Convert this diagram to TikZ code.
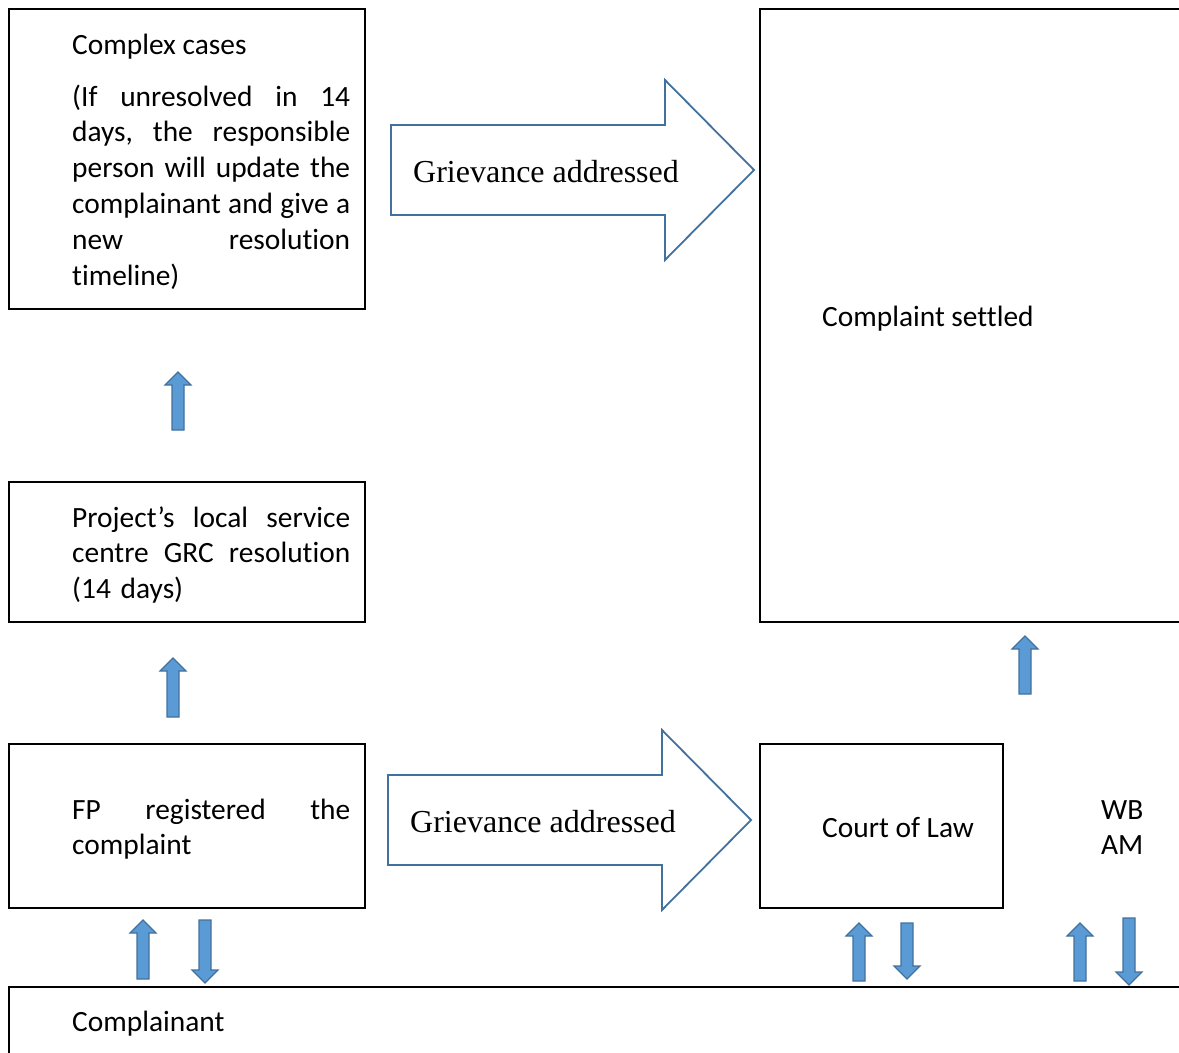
\documentclass[tikz,border=0pt]{standalone}
\usepackage{fontspec}
\setmainfont{Carlito}[Ligatures=NoCommon]
\newfontfamily\timesf{Liberation Serif}
\definecolor{arrfill}{HTML}{5B9BD5}
\definecolor{arrdraw}{HTML}{41719C}
\newcommand{\jl}[1]{\makebox[278pt][l]{#1}}
\newcommand{\blkup}[3]{\draw[blk] ({#1-6},{#3}) -- ({#1-6},{#2+13}) -- ({#1-13},{#2+13}) -- ({#1},{#2}) -- ({#1+13},{#2+13}) -- ({#1+6},{#2+13}) -- ({#1+6},{#3}) -- cycle;}
\newcommand{\blkdown}[3]{\draw[blk] ({#1-6},{#2}) -- ({#1-6},{#3-13}) -- ({#1-13},{#3-13}) -- ({#1},{#3}) -- ({#1+13},{#3-13}) -- ({#1+6},{#3-13}) -- ({#1+6},{#2}) -- cycle;}
\tikzset{
  box/.style={draw=black, line width=1.5pt},
  txt/.style={anchor=base west, inner sep=0pt, font=\fontsize{29.4}{35.8}\selectfont, align=left},
  ptxt/.style={txt, text width=278pt},
  gtxt/.style={anchor=base west, inner sep=0pt, font=\timesf\fontsize{32}{38}\selectfont},
  bigarr/.style={draw=arrdraw, line width=1.8pt, fill=white, line join=miter},
  blk/.style={draw=arrdraw, fill=arrfill, line width=1.1pt, line join=miter}
}
\begin{document}
\begin{tikzpicture}[x=1pt,y=-1pt]
\useasboundingbox (0,0) rectangle (1179,1053);
% boxes
\draw[box] (9,9) rectangle (365,309);
\draw[box] (9,482) rectangle (365,622);
\draw[box] (9,744) rectangle (365,908);
\draw[box] (760,744) rectangle (1003,908);
\draw[box] (1180,9) -- (760,9) -- (760,622) -- (1180,622);
\draw[box] (1180,987) -- (9,987) -- (9,1054);
% texts
\node[txt] (cc) at (72,54) {Complex cases};
\node[ptxt] (ccd) at (72,106) {\jl{(If\hfill unresolved\hfill in\hfill 14}\\\jl{days,\hfill the\hfill responsible}\\\jl{person\hfill will\hfill update\hfill the}\\\jl{complainant\hfill and\hfill give\hfill a}\\\jl{new\hfill resolution}\\timeline)};
\node[ptxt] (grc) at (72,527) {\jl{Project’s\hfill local\hfill service}\\\jl{centre\hfill GRC\hfill resolution}\\(14 days)};
\node[ptxt] (fp) at (72,819) {\jl{FP\hfill registered\hfill the}\\complaint};
\node[txt] (court) at (822,837) {Court of Law};
\node[txt] (settled) at (822,326) {Complaint settled};
\node[txt, text width=60pt] (wb) at (1101,819) {WB\\AM};
\node[txt] (compl) at (72,1031) {Complainant};
% big arrows
\draw[bigarr] (391,125) -- (665,125) -- (665,80) -- (754,170) -- (665,260) -- (665,215) -- (391,215) -- cycle;
\node[gtxt] (g1) at (413,182) {Grievance addressed};
\draw[bigarr] (388,775) -- (662,775) -- (662,730) -- (751,820) -- (662,910) -- (662,865) -- (388,865) -- cycle;
\node[gtxt] (g2) at (410,832) {Grievance addressed};
% small arrows
\blkup{178}{372}{430}
\blkup{173}{658}{717}
\blkup{1025}{636}{694}
\blkup{143}{920}{979}
\blkdown{205}{920}{983}
\blkup{859}{923}{981}
\blkdown{907}{923}{979}
\blkup{1080}{923}{981}
\blkdown{1129}{918}{985}
\end{tikzpicture}
\end{document}
